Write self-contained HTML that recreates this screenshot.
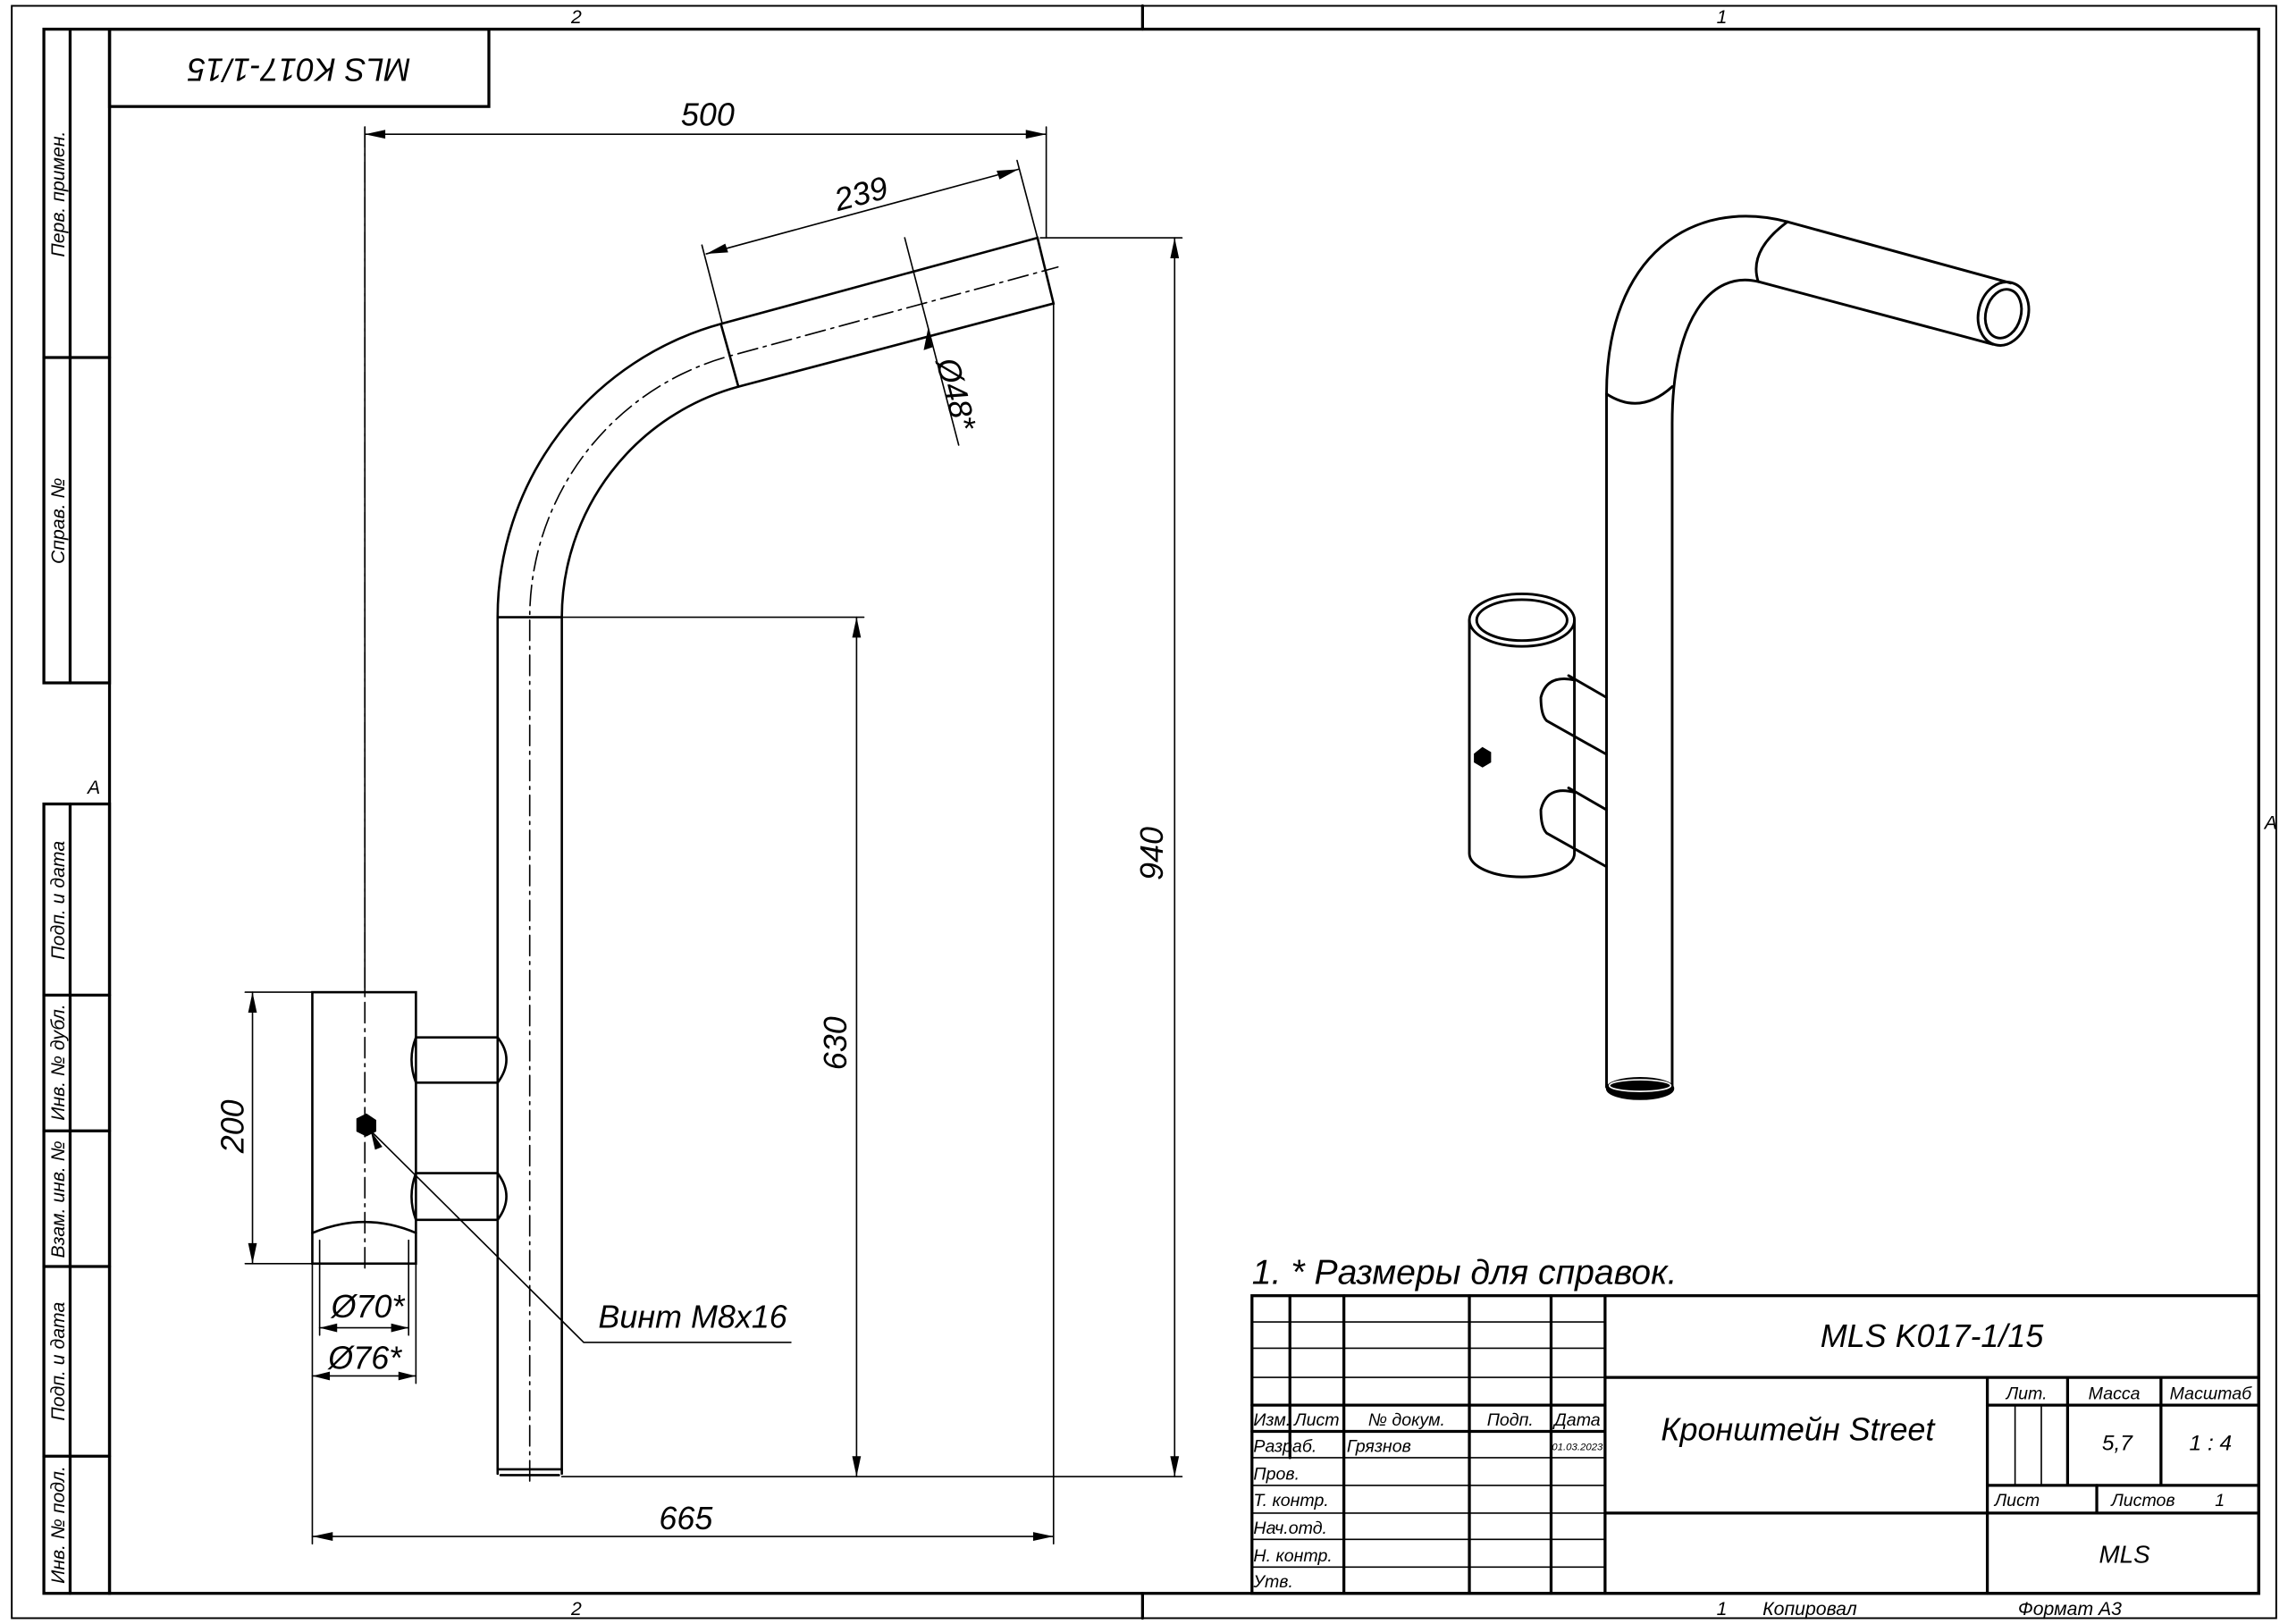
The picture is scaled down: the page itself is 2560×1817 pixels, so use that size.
<!DOCTYPE html>
<html><head><meta charset="utf-8"><style>
html,body{margin:0;padding:0;background:#fff}
svg{display:block}
text{font-family:"Liberation Sans","DejaVu Sans",sans-serif;font-style:italic;fill:#000}
</style></head><body>
<svg width="2560" height="1817" viewBox="0 0 1568 1113" xmlns="http://www.w3.org/2000/svg">
<g fill="none" stroke="#000" stroke-linecap="round">
<!-- outer frame -->
<rect x="8" y="4" width="1552" height="1105" stroke-width="1.2"/>
<rect x="75" y="20" width="1473" height="1072" stroke-width="2"/>
<line x1="783" y1="4" x2="783" y2="20" stroke-width="2"/>
<line x1="783" y1="1092" x2="783" y2="1109" stroke-width="2"/>
<!-- left strip -->
<g stroke-width="2">
<rect x="30" y="20" width="45" height="448"/>
<line x1="48" y1="20" x2="48" y2="468"/>
<line x1="30" y1="245" x2="75" y2="245"/>
<rect x="30" y="551" width="45" height="541"/>
<line x1="48" y1="551" x2="48" y2="1092"/>
<line x1="30" y1="682" x2="75" y2="682"/>
<line x1="30" y1="775" x2="75" y2="775"/>
<line x1="30" y1="868" x2="75" y2="868"/>
<line x1="30" y1="998" x2="75" y2="998"/>
<rect x="75" y="20" width="260" height="53"/>
</g>
<!-- title block -->
<g stroke-width="2">
<rect x="858" y="888" width="690" height="204"/>
<line x1="884" y1="888" x2="884" y2="999"/>
<line x1="921" y1="888" x2="921" y2="1092"/>
<line x1="1007" y1="888" x2="1007" y2="1092"/>
<line x1="1063" y1="888" x2="1063" y2="1092"/>
<line x1="1100" y1="888" x2="1100" y2="1092"/>
<line x1="1100" y1="944" x2="1548" y2="944"/>
<line x1="1100" y1="1037" x2="1548" y2="1037"/>
<line x1="1362" y1="944" x2="1362" y2="1092"/>
<line x1="1362" y1="963" x2="1548" y2="963"/>
<line x1="1362" y1="1018" x2="1548" y2="1018"/>
<line x1="1417" y1="944" x2="1417" y2="1018"/>
<line x1="1481" y1="944" x2="1481" y2="1018"/>
<line x1="1437" y1="1018" x2="1437" y2="1037"/>
<line x1="858" y1="963" x2="1100" y2="963"/>
<line x1="858" y1="981" x2="1100" y2="981"/>
</g>
<g stroke-width="1">
<line x1="858" y1="906" x2="1100" y2="906"/>
<line x1="858" y1="924" x2="1100" y2="924"/>
<line x1="858" y1="944" x2="1100" y2="944"/>
<line x1="858" y1="999" x2="1100" y2="999"/>
<line x1="858" y1="1018" x2="1100" y2="1018"/>
<line x1="858" y1="1037" x2="1100" y2="1037"/>
<line x1="858" y1="1055" x2="1100" y2="1055"/>
<line x1="858" y1="1074" x2="1100" y2="1074"/>
<line x1="1381" y1="963" x2="1381" y2="1018"/>
<line x1="1399" y1="963" x2="1399" y2="1018"/>
</g>

<!-- main pipe -->
<g stroke-width="1.6">
<path d="M341,1010 L341,423 A208,208 0 0 1 494,222 L711,163 L722,208 L506,265 A164,164 0 0 0 385,423 L385,1010"/>
<line x1="341" y1="423" x2="385" y2="423"/>
<line x1="341" y1="1007" x2="385" y2="1007"/>
<line x1="343" y1="1011" x2="383" y2="1011"/>
<line x1="494" y1="222" x2="506" y2="265"/>
</g>
<path d="M363,1015 L363,423 A186,186 0 0 1 500,244 L725,183" stroke-width="1" stroke-dasharray="14,4,2,4"/>

<!-- clamp -->
<g stroke-width="1.6">
<rect x="214" y="680" width="71" height="186"/>
<path d="M214,845 Q250,830 285,845"/>
<path d="M285,711 L341,711 Q353,726 341,742 L285,742 Q279,726 285,711 Z"/>
<path d="M285,804 L341,804 Q353,820 341,836 L285,836 Q279,820 285,804 Z"/>
<polygon points="245,767 251,764 257,768 257,775 251,778 245,775" fill="#000"/>
</g>
<line x1="250" y1="87" x2="250" y2="872" stroke-width="1" stroke-dasharray="14,4,2,4"/>

<!-- dimensions -->
<g stroke-width="1">
<line x1="250" y1="87" x2="250" y2="680"/>
<line x1="717" y1="87" x2="717" y2="163"/>
<line x1="250" y1="92" x2="717" y2="92"/>
<line x1="495" y1="222" x2="481" y2="168"/>
<line x1="711" y1="163" x2="697" y2="110"/>
<line x1="484" y1="174" x2="698" y2="116"/>
<line x1="620" y1="163" x2="657" y2="305"/>
<line x1="713" y1="163" x2="810" y2="163"/>
<line x1="385" y1="1012" x2="810" y2="1012"/>
<line x1="805" y1="163" x2="805" y2="1012"/>
<line x1="385" y1="423" x2="592" y2="423"/>
<line x1="587" y1="423" x2="587" y2="1012"/>
<line x1="168" y1="680" x2="214" y2="680"/>
<line x1="168" y1="866" x2="214" y2="866"/>
<line x1="173" y1="680" x2="173" y2="866"/>
<line x1="219" y1="850" x2="219" y2="915"/>
<line x1="280" y1="850" x2="280" y2="915"/>
<line x1="219" y1="910" x2="280" y2="910"/>
<line x1="214" y1="866" x2="214" y2="1058"/>
<line x1="285" y1="866" x2="285" y2="948"/>
<line x1="214" y1="943" x2="285" y2="943"/>
<line x1="722" y1="208" x2="722" y2="1058"/>
<line x1="214" y1="1053" x2="722" y2="1053"/>
<polyline points="252,773 400,920 542,920"/>
</g>
<g fill="#000" stroke="none">
<polygon points="250,92 264,89 264,95"/><polygon points="717,92 703,89 703,95"/>
<polygon points="484,174 497,167 499,173"/><polygon points="698,116 685,123 683,117"/>
<polygon points="636,225 639,238 633,240"/>
<polygon points="805,163 802,177 808,177"/><polygon points="805,1012 802,998 808,998"/>
<polygon points="587,423 584,437 590,437"/><polygon points="587,1012 584,998 590,998"/>
<polygon points="173,680 170,694 176,694"/><polygon points="173,866 170,852 176,852"/>
<polygon points="219,910 231,907 231,913"/><polygon points="280,910 268,907 268,913"/>
<polygon points="214,943 226,940 226,946"/><polygon points="285,943 273,940 273,946"/>
<polygon points="214,1053 228,1050 228,1056"/><polygon points="722,1053 708,1050 708,1056"/>
<polygon points="254,775 262,786 257,788"/>
</g>

<!-- isometric view -->
<g stroke-width="1.8">
<path d="M1101,745 L1101,270 C1101,175 1160,135 1225,152 L1378,194"/>
<path d="M1146,745 L1146,290 C1146,220 1172,185 1205,193 L1366,236"/>
<ellipse cx="1124" cy="746" rx="22.5" ry="7" fill="#000"/>
<ellipse cx="1124" cy="744" rx="21" ry="4" stroke="#fff" stroke-width="1"/>
<path d="M1101,270 Q1124,285 1146,265"/>
<path d="M1225,152 Q1198,172 1205,193"/>
<ellipse cx="1373" cy="215" rx="17" ry="22" transform="rotate(15 1373 215)"/>
<ellipse cx="1373" cy="215" rx="12" ry="17" transform="rotate(15 1373 215)"/>
<path d="M1007,425 L1007,585 A36,16 0 0 0 1079,585 L1079,425"/>
<ellipse cx="1043" cy="425" rx="36" ry="18"/>
<ellipse cx="1043" cy="425" rx="31" ry="14"/>
<path d="M1079,466 Q1060,462 1056,478 Q1056,490 1060,494 L1101,517"/>
<path d="M1075,463 L1101,478"/>
<path d="M1079,543 Q1060,538 1056,555 Q1056,567 1060,571 L1101,594"/>
<path d="M1075,540 L1101,555"/>
<polygon points="1011,517 1016,513 1021,516 1021,522 1016,525 1011,522" fill="#000"/>
</g>
</g>

<!-- texts -->
<g font-size="13">
<text x="395" y="16" text-anchor="middle">2</text>
<text x="1180" y="16" text-anchor="middle">1</text>
<text x="395" y="1107" text-anchor="middle">2</text>
<text x="1180" y="1107" text-anchor="middle">1</text>
<text x="1208" y="1107">Копировал</text>
<text x="1383" y="1107">Формат А3</text>
<text x="60" y="544">А</text>
<text x="1552" y="568">А</text>
</g>
<g font-size="13" text-anchor="middle">
<text transform="translate(44,133) rotate(-90)">Перв. примен.</text>
<text transform="translate(44,357) rotate(-90)">Справ. №</text>
<text transform="translate(44,617) rotate(-90)">Подп. и дата</text>
<text transform="translate(44,728) rotate(-90)">Инв. № дубл.</text>
<text transform="translate(44,822) rotate(-90)">Взам. инв. №</text>
<text transform="translate(44,933) rotate(-90)">Подп. и дата</text>
<text transform="translate(44,1045) rotate(-90)">Инв. № подл.</text>
</g>
<text transform="translate(205,40) rotate(180)" font-size="22" text-anchor="middle">MLS K017-1/15</text>
<g font-size="22">
<text x="485" y="86" text-anchor="middle">500</text>
<text transform="translate(592,140) rotate(-15)" text-anchor="middle">239</text>
<text transform="translate(648,272) rotate(75)" text-anchor="middle">Ø48*</text>
<text transform="translate(797,585) rotate(-90)" text-anchor="middle">940</text>
<text transform="translate(580,715) rotate(-90)" text-anchor="middle">630</text>
<text transform="translate(167,772) rotate(-90)" text-anchor="middle">200</text>
<text x="252" y="903" text-anchor="middle">Ø70*</text>
<text x="250" y="938" text-anchor="middle">Ø76*</text>
<text x="470" y="1048" text-anchor="middle">665</text>
<text x="410" y="910">Винт М8х16</text>
<text x="858" y="880" font-size="24">1.   * Размеры для справок.</text>
<text x="1324" y="923" text-anchor="middle">MLS K017-1/15</text>
<text x="1232" y="987" text-anchor="middle">Кронштейн Street</text>
<text x="1456" y="1071" text-anchor="middle" font-size="17">MLS</text>
</g>
<g font-size="12">
<text x="859" y="977">Изм.</text><text x="887" y="977">Лист</text>
<text x="964" y="977" text-anchor="middle">№ докум.</text>
<text x="1035" y="977" text-anchor="middle">Подп.</text>
<text x="1081" y="977" text-anchor="middle">Дата</text>
<text x="859" y="995">Разраб.</text><text x="923" y="995">Грязнов</text>
<text x="1081" y="994" text-anchor="middle" font-size="7">01.03.2023</text>
<text x="859" y="1014">Пров.</text>
<text x="859" y="1032">Т. контр.</text>
<text x="859" y="1051">Нач.отд.</text>
<text x="859" y="1070">Н. контр.</text>
<text x="859" y="1088">Утв.</text>
<text x="1389" y="959" text-anchor="middle">Лит.</text>
<text x="1449" y="959" text-anchor="middle">Масса</text>
<text x="1515" y="959" text-anchor="middle">Масштаб</text>
<text x="1367" y="1032">Лист</text>
<text x="1447" y="1032">Листов</text>
<text x="1518" y="1032">1</text>
<text x="1451" y="994" text-anchor="middle" font-size="15">5,7</text>
<text x="1515" y="994" text-anchor="middle" font-size="15">1 : 4</text>
</g>
</svg>
</body></html>
